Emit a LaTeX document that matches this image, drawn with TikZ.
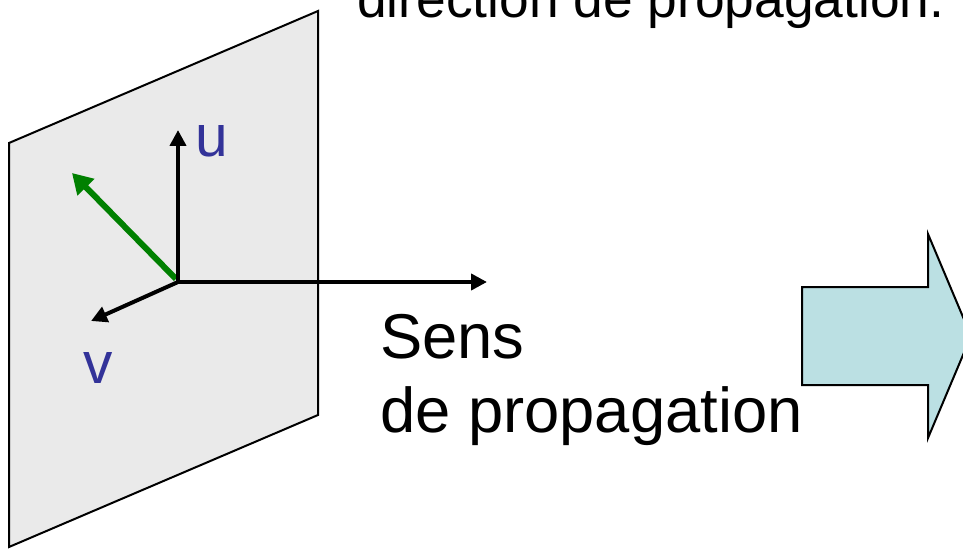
\documentclass[tikz,border=0pt]{standalone}
\usepackage{fontspec}
\setmainfont{Liberation Sans}
\usetikzlibrary{arrows.meta}
\definecolor{planefill}{HTML}{EAEAEA}
\definecolor{arrowfill}{HTML}{BBE0E3}
\definecolor{labblue}{HTML}{333399}
\definecolor{vecgreen}{HTML}{008000}
\tikzset{
  axis/.style={line width=3pt,-{Triangle[length=12pt,width=12pt]}},
  greenvec/.style={line width=4.5pt,draw=vecgreen,-{Triangle[length=15pt,width=17pt]}},
  bigtext/.style={font=\fontsize{47.5}{56}\selectfont,anchor=base west,inner sep=0pt},
  toptext/.style={font=\fontsize{40}{48}\selectfont,anchor=base west,inner sep=0pt},
  lab/.style={font=\fontsize{44}{50}\selectfont,text=labblue,inner sep=0pt}
}
\begin{document}
\begin{tikzpicture}[x=0.75pt,y=-0.75pt]
\useasboundingbox (0,0) rectangle (963,549);
\clip (0,0) rectangle (963,549);
% plane
\draw[fill=planefill,line width=1.5pt] (9,143) -- (318,11) -- (318,415) -- (9,547) -- cycle;
% top text
\node[toptext] (top) at (357,18) {direction de propagation.};
% axes
\coordinate (o) at (178,282);
\coordinate (ut) at (178,130);
\coordinate (vt) at (91,321);
\coordinate (wt) at (487,282);
\coordinate (gt) at (72,173);
\draw[greenvec] (176,279) -- (gt);
\draw[axis] (o) -- (ut);
\draw[axis] (o) -- (vt);
\draw[axis] (o) -- (wt);
\node[lab] (u) at (212,141) {u};
\node[lab] (v) at (98,368) {v};
% text
\node[bigtext] (s1) at (380,358) {Sens};
\node[bigtext] (s2) at (380,432) {de propagation};
% big arrow
\draw[fill=arrowfill,line width=1.5pt] (802,287) -- (928,287) -- (928,234) -- (971,336) -- (928,438) -- (928,385) -- (802,385) -- cycle;
\end{tikzpicture}
\end{document}
